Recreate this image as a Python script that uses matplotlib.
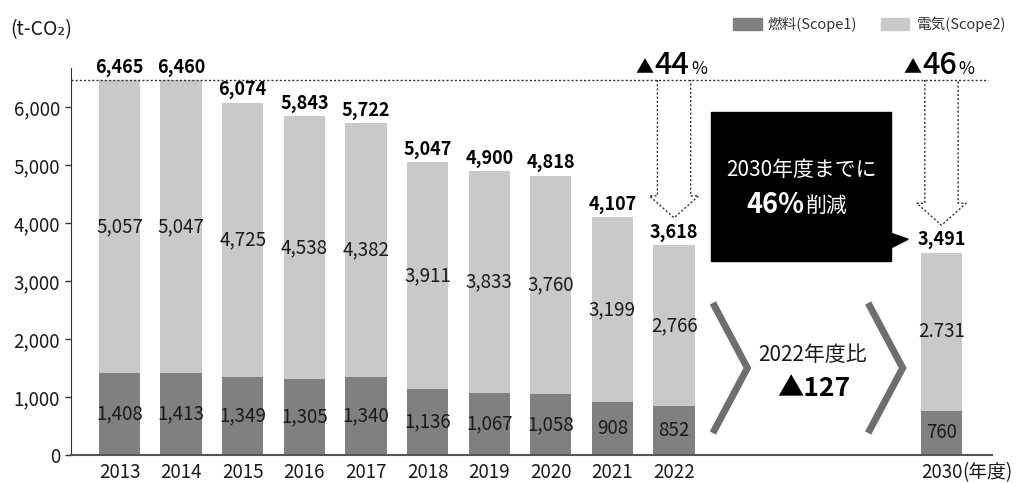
import matplotlib
matplotlib.use("Agg")
import matplotlib.pyplot as plt
from matplotlib.patches import Rectangle, Polygon

plt.rcParams['font.family'] = ['Noto Sans CJK JP', 'DejaVu Sans']

# data
years = ['2013', '2014', '2015', '2016', '2017', '2018', '2019', '2020', '2021', '2022', '2030']
scope1 = [1408, 1413, 1349, 1305, 1340, 1136, 1067, 1058, 908, 852, 760]
scope2 = [5057, 5047, 4725, 4538, 4382, 3911, 3833, 3760, 3199, 2766, 2731]
totals = [6465, 6460, 6074, 5843, 5722, 5047, 4900, 4818, 4107, 3618, 3491]
pos = [0, 1, 2, 3, 4, 5, 6, 7, 8, 9, 13.34]

s1_labels = [f"{v:,}" for v in scope1]
s2_labels = [f"{v:,}" for v in scope2]
s2_labels[-1] = "2.731"   # as printed in the original

dark = '#808080'
light = '#c9c9c9'
txt = '#1a1a1a'

W, H = 1016, 483
fig = plt.figure(figsize=(W / 100, H / 100), dpi=100)
ax = fig.add_axes([71 / W, 28 / H, (992 - 71) / W, (415 - 28) / H])

ax.bar(pos, scope1, width=0.67, color=dark, zorder=2)
ax.bar(pos, scope2, bottom=scope1, width=0.67, color=light, zorder=2)

for x, a, b, t, la, lb in zip(pos, scope1, scope2, totals, s1_labels, s2_labels):
    ax.text(x, a / 2, la, ha='center', va='center', fontsize=13.5, color=txt, zorder=4)
    ax.text(x, a + b / 2, lb, ha='center', va='center', fontsize=13.5, color=txt, zorder=4)
    ax.text(x, t + 55, f"{t:,}", ha='center', va='bottom', fontsize=13,
            fontweight='bold', color='black', zorder=4)

ax.set_xlim(-0.787, 14.16)
ax.set_ylim(0, 6672)
ax.set_yticks(range(0, 7000, 1000))
ax.set_yticklabels([f"{v:,}" for v in range(0, 7000, 1000)], fontsize=13.5, color=txt)
ax.set_xticks(pos)
ax.set_xticklabels(years, fontsize=13.5, color=txt)
ax.tick_params(axis='x', length=0, pad=5)
ax.tick_params(axis='y', length=4, width=1, color='#333333', pad=4)
for s in ['top', 'right']:
    ax.spines[s].set_visible(False)
ax.spines['left'].set_color('#333333')
ax.spines['bottom'].set_color('#555555')
ax.spines['bottom'].set_linewidth(1.5)
ax.text(13.68, -0.019, '(年度)', transform=ax.get_xaxis_transform(), ha='left', va='top',
        fontsize=13.5, color=txt)

# 2013 reference line
base = totals[0]
ax.plot([-0.787, 14.1], [base, base], ls=(0, (1.5, 1.5)), lw=1, color='#333333', zorder=3)

# dotted down arrows
for i in [9, 10]:
    cx = pos[i]
    sb = totals[i] + 850
    tip = totals[i] + 470
    xs = [cx - 0.27, cx - 0.27, cx - 0.4, cx, cx + 0.4, cx + 0.27, cx + 0.27]
    ys = [base, sb, sb, tip, sb, sb, base]
    ax.plot(xs, ys, ls=(0, (1.5, 1.5)), lw=1, color='#333333', zorder=3)

# percent labels above arrows
for cx, num in [(pos[9], '44'), (pos[10], '46')]:
    ax.text(cx - 0.03, 6569, num, ha='center', va='baseline', fontsize=22,
            fontweight='medium', color='black')
    ax.text(cx - 0.33, 6580, '▲', ha='right', va='baseline', fontsize=13, color='black')
    ax.text(cx + 0.28, 6569, '%', ha='left', va='baseline', fontsize=12.5, color='black')

# black callout box
ax.add_patch(Rectangle((9.6, 3345), 2.92, 2569, color='black', zorder=3, clip_on=False))
ax.add_patch(Polygon([(12.5, 3830), (12.8, 3720), (12.5, 3560)], closed=True,
                     color='black', zorder=3))
ax.text(11.07, 4914, '2030年度までに', ha='center', va='center', fontsize=15, color='white', zorder=4)
ax.text(11.11, 4310, '46%', ha='right', va='center', fontsize=19.5, fontweight='bold',
        color='white', zorder=4)
ax.text(11.13, 4290, '削減', ha='left', va='center', fontsize=15, color='white', zorder=4)

# chevrons
for x0 in [9.63, 12.15]:
    ax.plot([x0, x0 + 0.56, x0], [2621, 1500, 379], color='#6e6e6e', lw=5,
            solid_joinstyle='miter', solid_capstyle='butt', zorder=3)
ax.text(11.24, 1724, '2022年度比', ha='center', va='center', fontsize=15, color=txt)
ax.text(11.26, 1155, '▲127', ha='center', va='center', fontsize=19, fontweight='bold', color='black')

# unit label
fig.text(10 / W, 1 - 30 / H, '(t-CO₂)', ha='left', va='center', fontsize=14, color=txt)

# legend
fig.patches.append(Rectangle((733 / W, 1 - 30 / H), 29 / W, 12 / H, color=dark,
                             transform=fig.transFigure, figure=fig))
fig.text(768 / W, 1 - 24 / H, '燃料(Scope1)', ha='left', va='center', fontsize=10.5, color='#333333')
fig.patches.append(Rectangle((881 / W, 1 - 30 / H), 28 / W, 12 / H, color=light,
                             transform=fig.transFigure, figure=fig))
fig.text(917 / W, 1 - 24 / H, '電気(Scope2)', ha='left', va='center', fontsize=10.5, color='#333333')

fig.savefig('out.png', dpi=100)
